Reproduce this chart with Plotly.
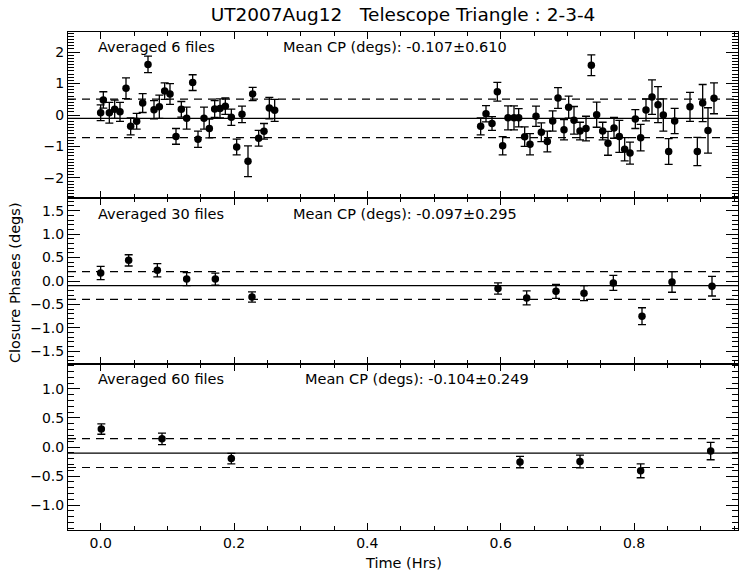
import plotly.graph_objects as go
from plotly.subplots import make_subplots

# ---------------- data ----------------
top_t = [0.000, 0.004, 0.013, 0.021, 0.029, 0.038, 0.045, 0.054, 0.063, 0.071, 0.080,
         0.088, 0.096, 0.104, 0.113, 0.121, 0.129, 0.138, 0.146, 0.155, 0.163, 0.171,
         0.179, 0.187, 0.196, 0.204, 0.212, 0.221, 0.228, 0.237, 0.245, 0.253, 0.261,
         0.570, 0.578, 0.587, 0.595, 0.603, 0.611, 0.620, 0.627, 0.636, 0.644, 0.653,
         0.661, 0.670, 0.678, 0.686, 0.695, 0.702, 0.710, 0.719, 0.728, 0.736, 0.744,
         0.753, 0.761, 0.770, 0.778, 0.786, 0.794, 0.802, 0.810, 0.818, 0.827, 0.836,
         0.844, 0.852, 0.861, 0.884, 0.895, 0.903, 0.911, 0.920]
top_cp = [0.07, 0.48, 0.07, 0.18, 0.10, 0.85, -0.36, -0.20, 0.38, 1.61, 0.17,
          0.26, 0.76, 0.67, -0.68, 0.18, -0.10, 1.03, -0.77, -0.10, -0.43, 0.19,
          0.21, 0.28, -0.07, -1.02, 0.02, -1.47, 0.67, -0.74, -0.52, 0.22, 0.15,
          -0.36, 0.04, -0.27, 0.74, -0.98, -0.09, -0.09, -0.09, -0.69, -0.93, -0.04,
          -0.55, -0.84, -0.19, 0.54, -0.47, 0.25, -0.17, -0.51, -0.43, 1.58, 0.01,
          -0.51, -0.90, -0.41, -0.68, -1.09, -1.21, -0.13, -0.72, 0.16, 0.57, 0.33,
          0.00, -1.16, -0.19, 0.26, -1.16, 0.38, -0.49, 0.53]
top_err = [0.25, 0.26, 0.33, 0.29, 0.30, 0.33, 0.27, 0.25, 0.30, 0.26, 0.29,
           0.37, 0.26, 0.33, 0.25, 0.25, 0.35, 0.25, 0.26, 0.35, 0.30, 0.27,
           0.30, 0.26, 0.26, 0.25, 0.26, 0.49, 0.21, 0.25, 0.25, 0.34, 0.35,
           0.27, 0.26, 0.22, 0.30, 0.29, 0.38, 0.38, 0.29, 0.31, 0.34, 0.32,
           0.30, 0.33, 0.32, 0.33, 0.32, 0.35, 0.44, 0.28, 0.39, 0.33, 0.40,
           0.28, 0.38, 0.33, 0.51, 0.37, 0.35, 0.30, 0.42, 0.35, 0.55, 0.57,
           0.51, 0.41, 0.40, 0.46, 0.45, 0.59, 0.72, 0.49]

mid_t = [0.000, 0.042, 0.085, 0.129, 0.172, 0.227, 0.596, 0.639, 0.683, 0.725, 0.769, 0.812, 0.857, 0.917]
mid_cp = [0.17, 0.44, 0.23, 0.04, 0.04, -0.34, -0.16, -0.36, -0.22, -0.26, -0.04, -0.75, -0.02, -0.11]
mid_err = [0.14, 0.12, 0.14, 0.14, 0.13, 0.11, 0.12, 0.15, 0.15, 0.16, 0.16, 0.18, 0.22, 0.21]

bot_t = [0.001, 0.092, 0.196, 0.629, 0.719, 0.810, 0.915]
bot_cp = [0.31, 0.14, -0.20, -0.26, -0.25, -0.41, -0.07]
bot_err = [0.09, 0.10, 0.09, 0.10, 0.11, 0.12, 0.15]

n_files = [6, 30, 60]
mean_cp = [-0.107, -0.097, -0.104]
std_cp = [0.610, 0.295, 0.249]

title_text = "UT2007Aug12   Telescope Triangle : 2-3-4"
x_title = "Time (Hrs)"
y_title = "Closure Phases (degs)"

# ---------------- figure ----------------
FONT = "DejaVu Sans"
fig = make_subplots(rows=3, cols=1, shared_xaxes=True, vertical_spacing=0)

panels = [(top_t, top_cp, top_err), (mid_t, mid_cp, mid_err), (bot_t, bot_cp, bot_err)]
for i, (t, cp, er) in enumerate(panels, start=1):
    fig.add_trace(go.Scatter(
        x=t, y=cp, mode="markers",
        marker=dict(color="black", size=7.5, symbol="circle"),
        error_y=dict(type="data", array=er, visible=True, color="black", thickness=1.3, width=4),
        showlegend=False, hoverinfo="skip"), row=i, col=1)
    m, s = mean_cp[i - 1], std_cp[i - 1]
    fig.add_hline(y=m, line=dict(color="black", width=1.2), row=i, col=1)
    fig.add_hline(y=m + s, line=dict(color="black", width=1.2, dash="8px,6px"), row=i, col=1)
    fig.add_hline(y=m - s, line=dict(color="black", width=1.2, dash="8px,6px"), row=i, col=1)

y_ranges = [[-2.64, 2.64], [-1.77, 1.77], [-1.43, 1.43]]
y_ticks = [[-2, -1, 0, 1, 2], [-1.5, -1.0, -0.5, 0.0, 0.5, 1.0, 1.5], [-1.0, -0.5, 0.0, 0.5, 1.0]]
y_fmt = ["d", ".1f", ".1f"]
ann_y = [2.17, 1.43, 1.17]
mean_x = [0.270, 0.2855, 0.303]

axis_common = dict(showline=True, linecolor="black", linewidth=1.1, mirror="ticks",
                   ticks="inside", tickcolor="black", showgrid=False, zeroline=False,
                   tickfont=dict(family=FONT, size=14, color="black"))

for i in range(1, 4):
    fig.update_yaxes(range=y_ranges[i - 1], tickvals=y_ticks[i - 1], tickformat=y_fmt[i - 1],
                     ticklen=12, tickwidth=1.2,
                     minor=dict(ticks="inside", ticklen=6, dtick=0.1, tickcolor="black", tickwidth=1),
                     **axis_common, row=i, col=1)
    fig.update_xaxes(range=[-0.049, 0.956], dtick=0.2, tick0=0, tickformat=".1f",
                     ticklen=7, tickwidth=1.2, showticklabels=(i == 3),
                     minor=dict(ticks="inside", ticklen=4, dtick=0.05, tickcolor="black", tickwidth=1),
                     **axis_common, row=i, col=1)
    xr = "x" if i == 1 else f"x{i}"
    yr = "y" if i == 1 else f"y{i}"
    fig.add_annotation(x=-0.007, y=ann_y[i - 1], xref=xr, yref=yr, xanchor="left", yanchor="middle",
                       text=f"Averaged {n_files[i - 1]} files", showarrow=False,
                       font=dict(family=FONT, size=14.5, color="black"))
    fig.add_annotation(x=mean_x[i - 1], y=ann_y[i - 1], xref=xr, yref=yr, xanchor="left", yanchor="middle",
                       text=f"Mean CP (degs): {mean_cp[i - 1]:.3f}\u00b1{std_cp[i - 1]:.3f}", showarrow=False,
                       font=dict(family=FONT, size=14.5, color="black"))

fig.add_annotation(x=0.5, y=-0.066, xref="paper", yref="paper", xanchor="center", yanchor="middle",
                   text=x_title, showarrow=False, font=dict(family=FONT, size=14.5, color="black"))
fig.add_annotation(x=-0.079, y=0.496, xref="paper", yref="paper", xanchor="center", yanchor="middle",
                   text=y_title, textangle=-90, showarrow=False,
                   font=dict(family=FONT, size=14.5, color="black"))

fig.update_layout(
    width=743, height=571,
    margin=dict(l=68, r=5, t=32, b=41),
    paper_bgcolor="white", plot_bgcolor="white",
    title=dict(text=title_text, x=0.5, xref="paper", xanchor="center",
               y=1 - 15 / 571, yref="container", yanchor="middle",
               font=dict(family=FONT, size=18.5, color="black")),
    showlegend=False,
)

fig.write_html("out.html")
